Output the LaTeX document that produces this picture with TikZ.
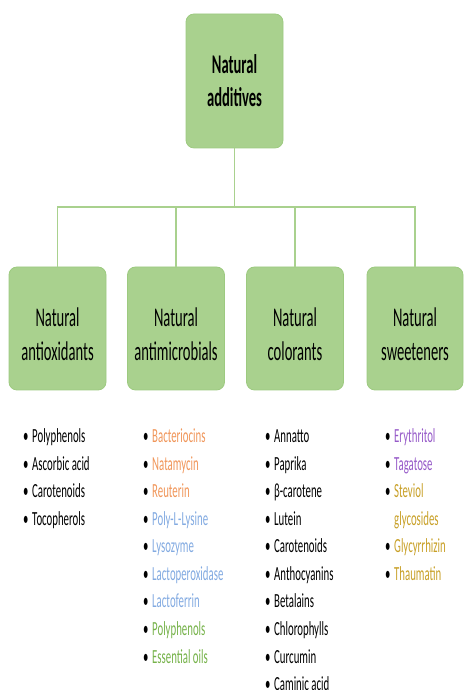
\documentclass[tikz,border=0pt]{standalone}
\usepackage{fontspec}
\setmainfont[FakeStretch=0.54]{Carlito}
\definecolor{boxgreen}{HTML}{A9D18E}
\definecolor{boxedge}{HTML}{9DCA80}
\definecolor{orng}{HTML}{F0965A}
\definecolor{blu}{HTML}{82AAE1}
\definecolor{grn}{HTML}{76B24A}
\definecolor{purp}{HTML}{965AC8}
\definecolor{gold}{HTML}{C8A028}
\newcommand{\itm}[1]{\makebox[9pt][l]{\textbullet}#1}
\newcommand{\cont}[1]{\makebox[9pt][l]{}#1}
\tikzset{
  catbox/.style={draw=boxedge, fill=boxgreen, rounded corners=8pt, line width=0.8pt,
    minimum width=97pt, minimum height=123pt, align=center,
    font=\fontsize{27}{34}\selectfont},
  link/.style={draw=boxgreen, line width=1.5pt},
  item/.style={anchor=base west, inner sep=0pt, font=\fontsize{20}{24}\selectfont}
}
\begin{document}
\begin{tikzpicture}[x=1pt,y=1pt]
            \useasboundingbox (0,0) rectangle (463,690);
            \node[catbox, minimum height=134pt, font=\bfseries\fontsize{27}{33}\selectfont] (top) at (234.5,609) {Natural\\additives};
            \node[catbox] (anti) at (57.5,361.5) {\rule{0pt}{34pt}\\[-38pt]Natural\\antioxidants};
            \node[catbox] (micro) at (176,361.5) {\rule{0pt}{34pt}\\[-38pt]Natural\\antimicrobials};
            \node[catbox] (color) at (295,361.5) {\rule{0pt}{34pt}\\[-38pt]Natural\\colorants};
            \node[catbox, minimum width=96pt] (sweet) at (415,361.5) {\rule{0pt}{34pt}\\[-38pt]Natural\\sweeteners};
            \coordinate (bar) at (234.5,483);
            \draw[link] (top.south) -- (bar);
            \draw[link] (bar) -| (anti.north);
            \draw[link] (bar) -| (micro.north);
            \draw[link] (bar) -| (color.north);
            \draw[link] (bar) -| (sweet.north);
            % lists
            \foreach \t [count=\i] in {Polyphenols, Ascorbic acid, Carotenoids, Tocopherols}
              \node[item] (ao\i) at (23,247-27.5*\i+27.5) {\itm{\t}};
            \foreach \t/\c [count=\i] in {Bacteriocins/orng, Natamycin/orng, Reuterin/orng,
                Poly-L-Lysine/blu, Lysozyme/blu, Lactoperoxidase/blu, Lactoferrin/blu,
                Polyphenols/grn, Essential oils/grn}
              \node[item] (am\i) at (143,247-27.5*\i+27.5) {\itm{\color{\c}\t}};
            \foreach \t [count=\i] in {Annatto, Paprika, β-carotene, Lutein, Carotenoids,
                Anthocyanins, Betalains, Chlorophylls, Curcumin, Caminic acid}
              \node[item] (co\i) at (265,247-27.5*\i+27.5) {\itm{\t}};
            \foreach \k/\t/\c [count=\i] in {itm/Erythritol/purp, itm/Tagatose/purp,
                itm/Steviol/gold, cont/glycosides/gold, itm/Glycyrrhizin/gold,
                itm/Thaumatin/gold}
              \node[item] (sw\i) at (385,247-27.5*\i+27.5) {\csname\k\endcsname{\color{\c}\t}};
        \end{tikzpicture}
\end{document}
